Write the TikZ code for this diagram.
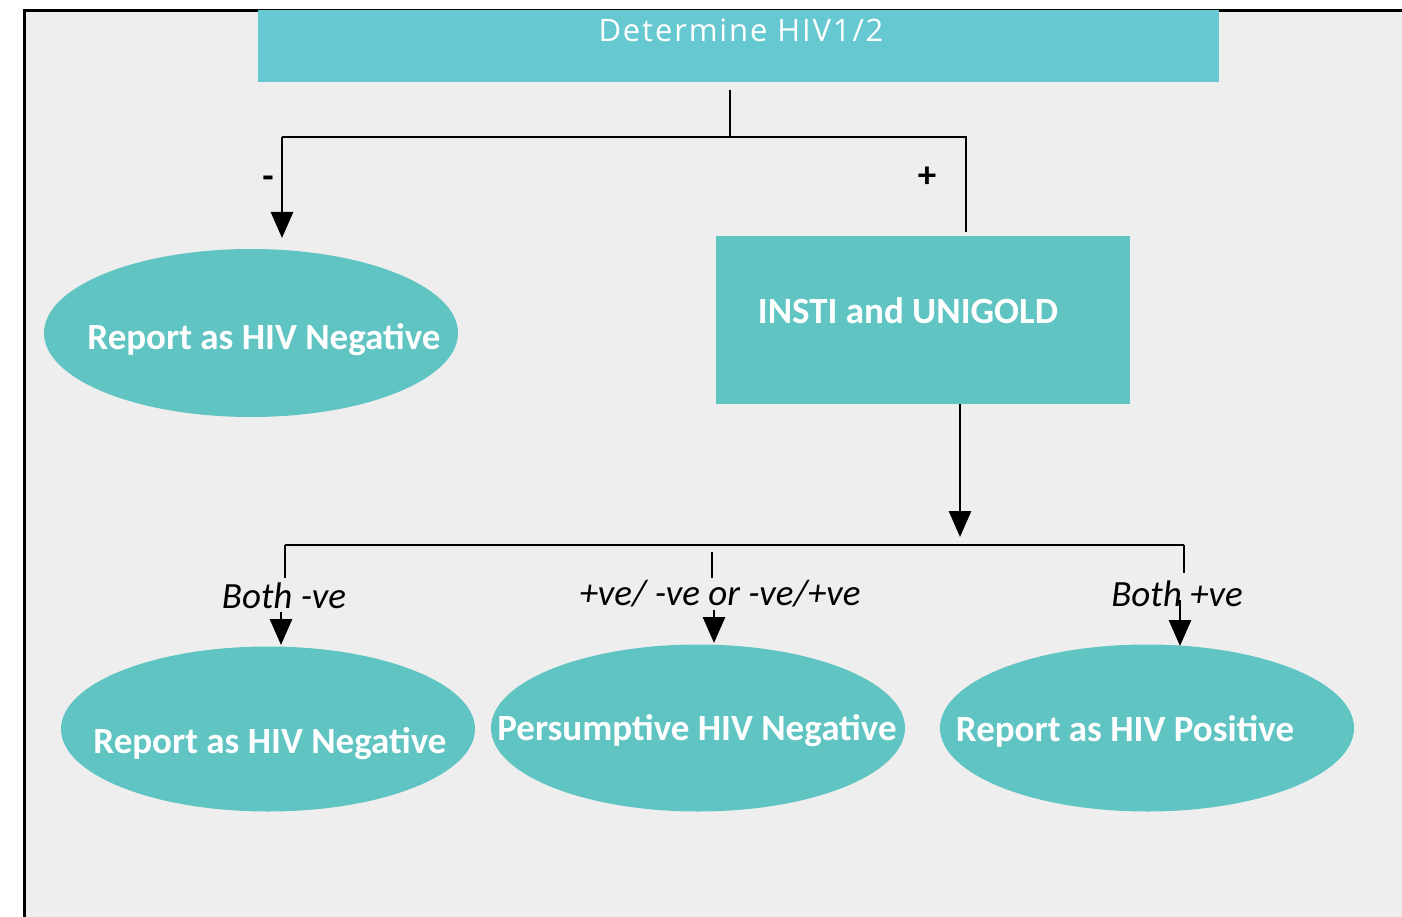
\documentclass[tikz,border=0pt]{standalone}
\usepackage{fontspec}
\setmainfont{Carlito}
\newfontfamily\titlefont[LetterSpace=6]{Open Sans}
\usetikzlibrary{shapes.geometric}
\usetikzlibrary{arrows.meta}

\definecolor{tealtop}{HTML}{66C8D0}
\definecolor{tealbox}{HTML}{5FC4C2}
\definecolor{panel}{HTML}{EEEEEE}

\tikzset{
  link/.style={line width=2.8pt},
  arrowlink/.style={line width=2.8pt,-{Triangle[length=26pt,width=22pt]}},
  resultnode/.style={ellipse,fill=tealbox,inner sep=0pt,minimum width=414pt,minimum height=167pt},
  boxtext/.style={text=white,font=\fontsize{37}{44}\selectfont\bfseries},
  branchtext/.style={font=\fontsize{37}{44}\selectfont\itshape}
}

\begin{document}
\begin{tikzpicture}[x=1pt,y=-1pt]
      \useasboundingbox (0,0) rectangle (1402,917);
      \fill[panel] (24,10) rectangle (1402,917);
      \draw[line width=3pt] (24,917)--(24,11)--(1402,11);

      % first test
      \node[fill=tealtop,minimum width=961pt,minimum height=72pt,inner sep=0pt] (det) at (738.5,46) {};
      \node[text=white,font=\titlefont\fontsize{31}{36}\selectfont] (dettext) at (741,30) {Determine HIV1/2};

      \node[resultnode,minimum height=168pt] (neg) at (251,333) {};
      \node[boxtext] (negtext) at (264,340) {Report as HIV Negative};

      \node[fill=tealbox,minimum width=414pt,minimum height=168pt,inner sep=0pt] (insti) at (923,320) {};
      \node[boxtext] (institext) at (908,311) {INSTI and UNIGOLD};

      \coordinate (detlow) at (730,90);
      \coordinate (splitL) at (282,137);
      \coordinate (splitR) at (966,137);
      \draw[link] (detlow) |- (splitL);
      \draw[link] (splitL) -- (splitR) -- (966,232);
      \draw[arrowlink] (splitL) -- (282,238);
      \node[font=\fontsize{37}{44}\selectfont\bfseries] (minus) at (268,182) {-};
      \node[font=\fontsize{37}{44}\selectfont\bfseries] (plus) at (927,177) {+};

      % second test
      \coordinate (institip) at (960,537);
      \draw[arrowlink] (insti.south -| institip) -- (institip);
      \coordinate (barL) at (285,545);
      \coordinate (barR) at (1184,545);
      \draw[link] (barL) -- (barR);

      \node[resultnode,minimum height=165pt] (bothneg) at (268,729) {};
      \node[resultnode] (presneg) at (698,728) {};
      \node[resultnode] (bothpos) at (1147,728) {};
      \node[boxtext] (bothnegtext) at (270,744) {Report as HIV Negative};
      \node[boxtext] (presnegtext) at (697,731) {Persumptive HIV Negative};
      \node[boxtext] (bothpostext) at (1125,731) {Report as HIV Positive};

      \node[branchtext] (lblL) at (284,596) {Both -ve};
      \node[branchtext] (lblM) at (720,594) {+ve/ -ve or -ve/+ve};
      \node[branchtext] (lblR) at (1177,594) {Both +ve};

      \draw[link] (barL) -- (285,578);
      \draw[link] (712,552) -- (712,578);
      \draw[link] (barR) -- (1184,573);
      \draw[arrowlink] (281,612) -- (281,645);
      \draw[arrowlink] (714,610) -- (714,643);
      \draw[arrowlink] (1180,600) -- (1180,646);
    \end{tikzpicture}
\end{document}
